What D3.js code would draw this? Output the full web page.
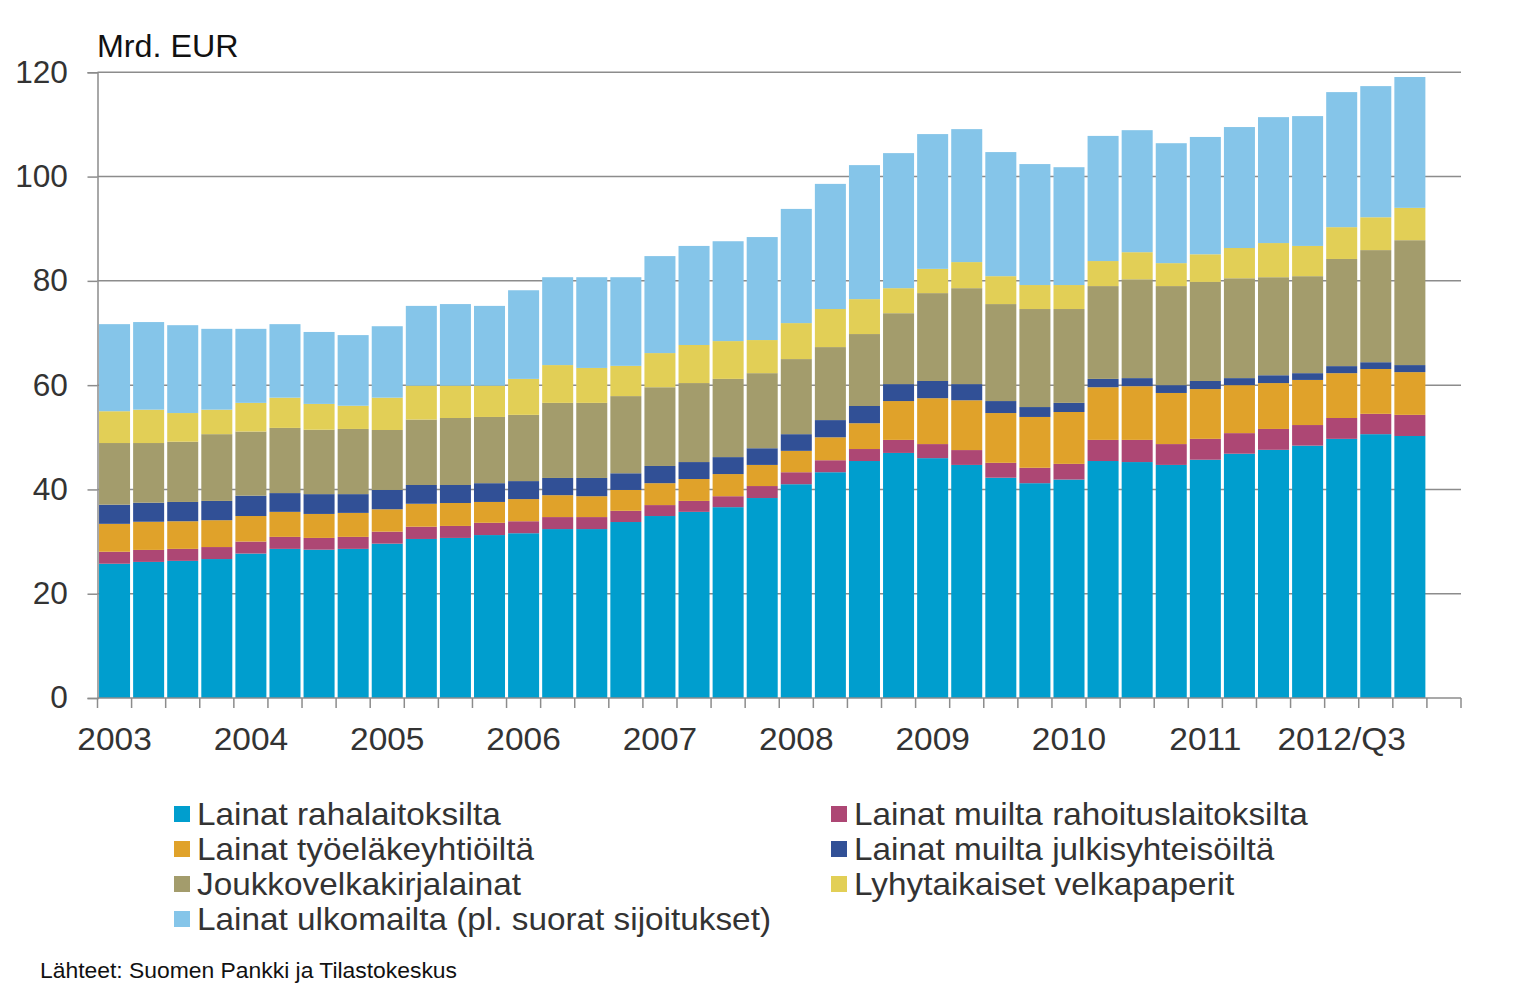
<!DOCTYPE html>
<html>
<head>
<meta charset="utf-8">
<script src="https://cdn.jsdelivr.net/npm/d3@7"></script>
<style>
  html, body { margin: 0; padding: 0; background: #fff; }
  svg { display: block; font-family: "Liberation Sans", Arial, sans-serif; }
</style>
</head>
<body>
<svg id="chart" width="1530" height="993"></svg>
<script>
// Quarters 2003Q1 .. 2012Q4 (last quarter has no data)
const years = [2003, 2004, 2005, 2006, 2007, 2008, 2009, 2010, 2011, 2012];
const quarters = [];
years.forEach(y => [1, 2, 3, 4].forEach(q => quarters.push(y + "Q" + q)));

const tickLabels = ["2003", "2004", "2005", "2006", "2007", "2008", "2009", "2010", "2011", "2012/Q3"];
const yTicks = [0, 20, 40, 60, 80, 100, 120];

// Series values, Mrd. EUR
const rahalaitoksilta = [25.75, 26.1, 26.3, 26.65, 27.7, 28.6, 28.45, 28.6, 29.6, 30.5, 30.7, 31.25, 31.6, 32.4, 32.4, 33.75, 34.9, 35.7, 36.6, 38.35, 41.0, 43.3, 45.45, 47.0, 46.0, 44.7, 42.25, 41.2, 41.9, 45.45, 45.25, 44.7, 45.7, 46.85, 47.6, 48.4, 49.7, 50.6, 50.25];
const muiltaRahoitus = [2.3, 2.3, 2.3, 2.3, 2.3, 2.3, 2.25, 2.3, 2.3, 2.35, 2.3, 2.35, 2.3, 2.3, 2.3, 2.15, 2.1, 2.1, 2.1, 2.3, 2.3, 2.3, 2.3, 2.5, 2.7, 2.85, 2.85, 2.95, 3.0, 4.05, 4.25, 4.0, 4.0, 3.95, 4.0, 3.95, 4.0, 3.9, 4.05];
const tyoelake = [5.35, 5.4, 5.3, 5.15, 4.9, 4.8, 4.6, 4.6, 4.3, 4.4, 4.4, 4.0, 4.25, 4.2, 4.0, 4.0, 4.2, 4.2, 4.25, 4.05, 4.1, 4.4, 4.95, 7.45, 8.8, 9.55, 9.55, 9.75, 9.95, 10.1, 10.3, 9.8, 9.55, 9.2, 8.8, 8.65, 8.6, 8.6, 8.2];
const julkisyhteisot = [3.67, 3.65, 3.7, 3.7, 3.9, 3.6, 3.8, 3.6, 3.7, 3.6, 3.45, 3.6, 3.45, 3.3, 3.5, 3.2, 3.3, 3.25, 3.25, 3.2, 3.2, 3.3, 3.3, 3.25, 3.3, 3.1, 2.3, 1.9, 1.75, 1.6, 1.55, 1.5, 1.55, 1.35, 1.5, 1.3, 1.35, 1.3, 1.35];
const joukkovelka = [11.83, 11.45, 11.55, 12.8, 12.3, 12.5, 12.35, 12.5, 11.5, 12.55, 12.85, 12.7, 12.7, 14.4, 14.4, 14.8, 15.1, 15.15, 15.0, 14.4, 14.4, 14.0, 13.8, 13.6, 16.85, 18.4, 18.6, 18.8, 18.0, 17.8, 18.95, 19.0, 19.0, 19.15, 18.8, 18.6, 20.55, 21.5, 23.95];
const lyhytaikaiset = [6.1, 6.4, 5.5, 4.7, 5.5, 5.8, 4.95, 4.45, 6.2, 6.5, 6.2, 6.0, 6.9, 7.25, 6.7, 5.8, 6.55, 7.3, 7.25, 6.35, 6.9, 7.3, 6.7, 4.8, 4.65, 5.0, 5.35, 4.6, 4.6, 4.8, 5.2, 4.4, 5.3, 5.8, 6.55, 5.8, 6.1, 6.3, 6.2];
const ulkomailta = [16.7, 16.8, 16.85, 15.5, 14.2, 14.1, 13.8, 13.55, 13.7, 15.3, 15.65, 15.3, 17.0, 16.85, 17.4, 17.0, 18.6, 19.0, 19.15, 19.75, 21.9, 24.0, 25.7, 25.9, 25.85, 25.5, 23.8, 23.2, 22.6, 24.0, 23.4, 23.0, 22.5, 23.2, 24.15, 24.9, 25.9, 25.15, 25.1];

const seriesKeys = ["raha", "muRah", "tyo", "julk", "jvk", "lyhyt", "ulko"];
const seriesNames = {
  raha: "Lainat rahalaitoksilta",
  muRah: "Lainat muilta rahoituslaitoksilta",
  tyo: "Lainat työeläkeyhtiöiltä",
  julk: "Lainat muilta julkisyhteisöiltä",
  jvk: "Joukkovelkakirjalainat",
  lyhyt: "Lyhytaikaiset velkapaperit",
  ulko: "Lainat ulkomailta (pl. suorat sijoitukset)"
};
const seriesColors = {
  raha: "#009ECE", muRah: "#AD4774", tyo: "#E0A22A", julk: "#315096",
  jvk: "#A39C6C", lyhyt: "#E2CF56", ulko: "#85C5E9"
};

const rows = rahalaitoksilta.map((v, i) => ({
  q: quarters[i], raha: v, muRah: muiltaRahoitus[i], tyo: tyoelake[i], julk: julkisyhteisot[i],
  jvk: joukkovelka[i], lyhyt: lyhytaikaiset[i], ulko: ulkomailta[i]
}));

(function draw() {
  const svg = d3.select("#chart");
  const pLeft = 97.5, pRight = 1461, pTop = 72.3, pBottom = 698;

  const x = d3.scaleBand().domain(quarters).range([pLeft, pRight]).paddingInner(0.09).paddingOuter(0.045);
  const y = d3.scaleLinear().domain([0, 120]).range([pBottom, pTop]);

  // helper: text placed at (tx,ty), slightly widened horizontally
  function stretched(parent, tx, ty, sx, str, size, fill, anchor) {
    return parent.append("text")
      .attr("transform", `translate(${tx},${ty}) scale(${sx},1)`)
      .attr("font-size", size).attr("fill", fill)
      .attr("text-anchor", anchor || "start")
      .text(str);
  }

  // gridlines
  svg.append("g").selectAll("line").data(yTicks.filter(d => d > 0)).join("line")
    .attr("x1", pLeft).attr("x2", pRight)
    .attr("y1", d => y(d)).attr("y2", d => y(d))
    .attr("stroke", "#8c8c8c").attr("stroke-width", 1.5);

  // bars
  const stack = d3.stack().keys(seriesKeys)(rows);
  svg.append("g").selectAll("g").data(stack).join("g")
    .attr("fill", s => seriesColors[s.key])
    .selectAll("rect").data(s => s).join("rect")
    .attr("x", d => x(d.data.q))
    .attr("width", x.bandwidth())
    .attr("y", d => y(d[1]))
    .attr("height", d => y(d[0]) - y(d[1]));

  // y axis
  const yAxis = svg.append("g").attr("transform", `translate(${pLeft},0)`)
    .call(d3.axisLeft(y).tickValues(yTicks).tickSize(10).tickPadding(19));
  yAxis.select(".domain").attr("stroke", "#8c8c8c").attr("stroke-width", 1.5);
  yAxis.selectAll(".tick line").attr("stroke", "#8c8c8c").attr("stroke-width", 1.5);
  yAxis.selectAll(".tick text").attr("font-size", 31).attr("fill", "#333")
    .attr("font-family", "Liberation Sans, Arial, sans-serif")
    .attr("transform", "scale(1.02,1)");

  // x axis: baseline + boundary ticks
  const xg = svg.append("g");
  xg.append("line").attr("x1", pLeft).attr("x2", pRight).attr("y1", pBottom).attr("y2", pBottom)
    .attr("stroke", "#8c8c8c").attr("stroke-width", 1.5);
  const step = x.step();
  const boundaries = d3.range(quarters.length + 1).map(i => pLeft + i * step);
  xg.selectAll("line.tk").data(boundaries).join("line").attr("class", "tk")
    .attr("x1", d => d).attr("x2", d => d).attr("y1", pBottom).attr("y2", pBottom + 10)
    .attr("stroke", "#8c8c8c").attr("stroke-width", 1.5);
  tickLabels.forEach((lab, i) => {
    stretched(xg, x(quarters[i * 4]) + x.bandwidth() / 2, 750, 1.08, lab, 31, "#333", "middle");
  });

  // unit label
  stretched(svg, 97, 57, 1.04, "Mrd. EUR", 31, "#111");

  // legend
  const legendLeft = ["raha", "tyo", "jvk", "ulko"];
  const legendRight = ["muRah", "julk", "lyhyt"];
  function legendCol(keys, x0) {
    const g = svg.append("g");
    keys.forEach((k, i) => {
      const cy = 814 + i * 35;
      g.append("rect").attr("x", x0).attr("y", cy - 8).attr("width", 16).attr("height", 16).attr("fill", seriesColors[k]);
      stretched(g, x0 + 23, cy + 11, 1.075, seriesNames[k], 31, "#333");
    });
  }
  legendCol(legendLeft, 174);
  legendCol(legendRight, 831);

  // source
  stretched(svg, 40, 978, 1.04, "Lähteet: Suomen Pankki ja Tilastokeskus", 22, "#111");
})();
</script>
</body>
</html>
